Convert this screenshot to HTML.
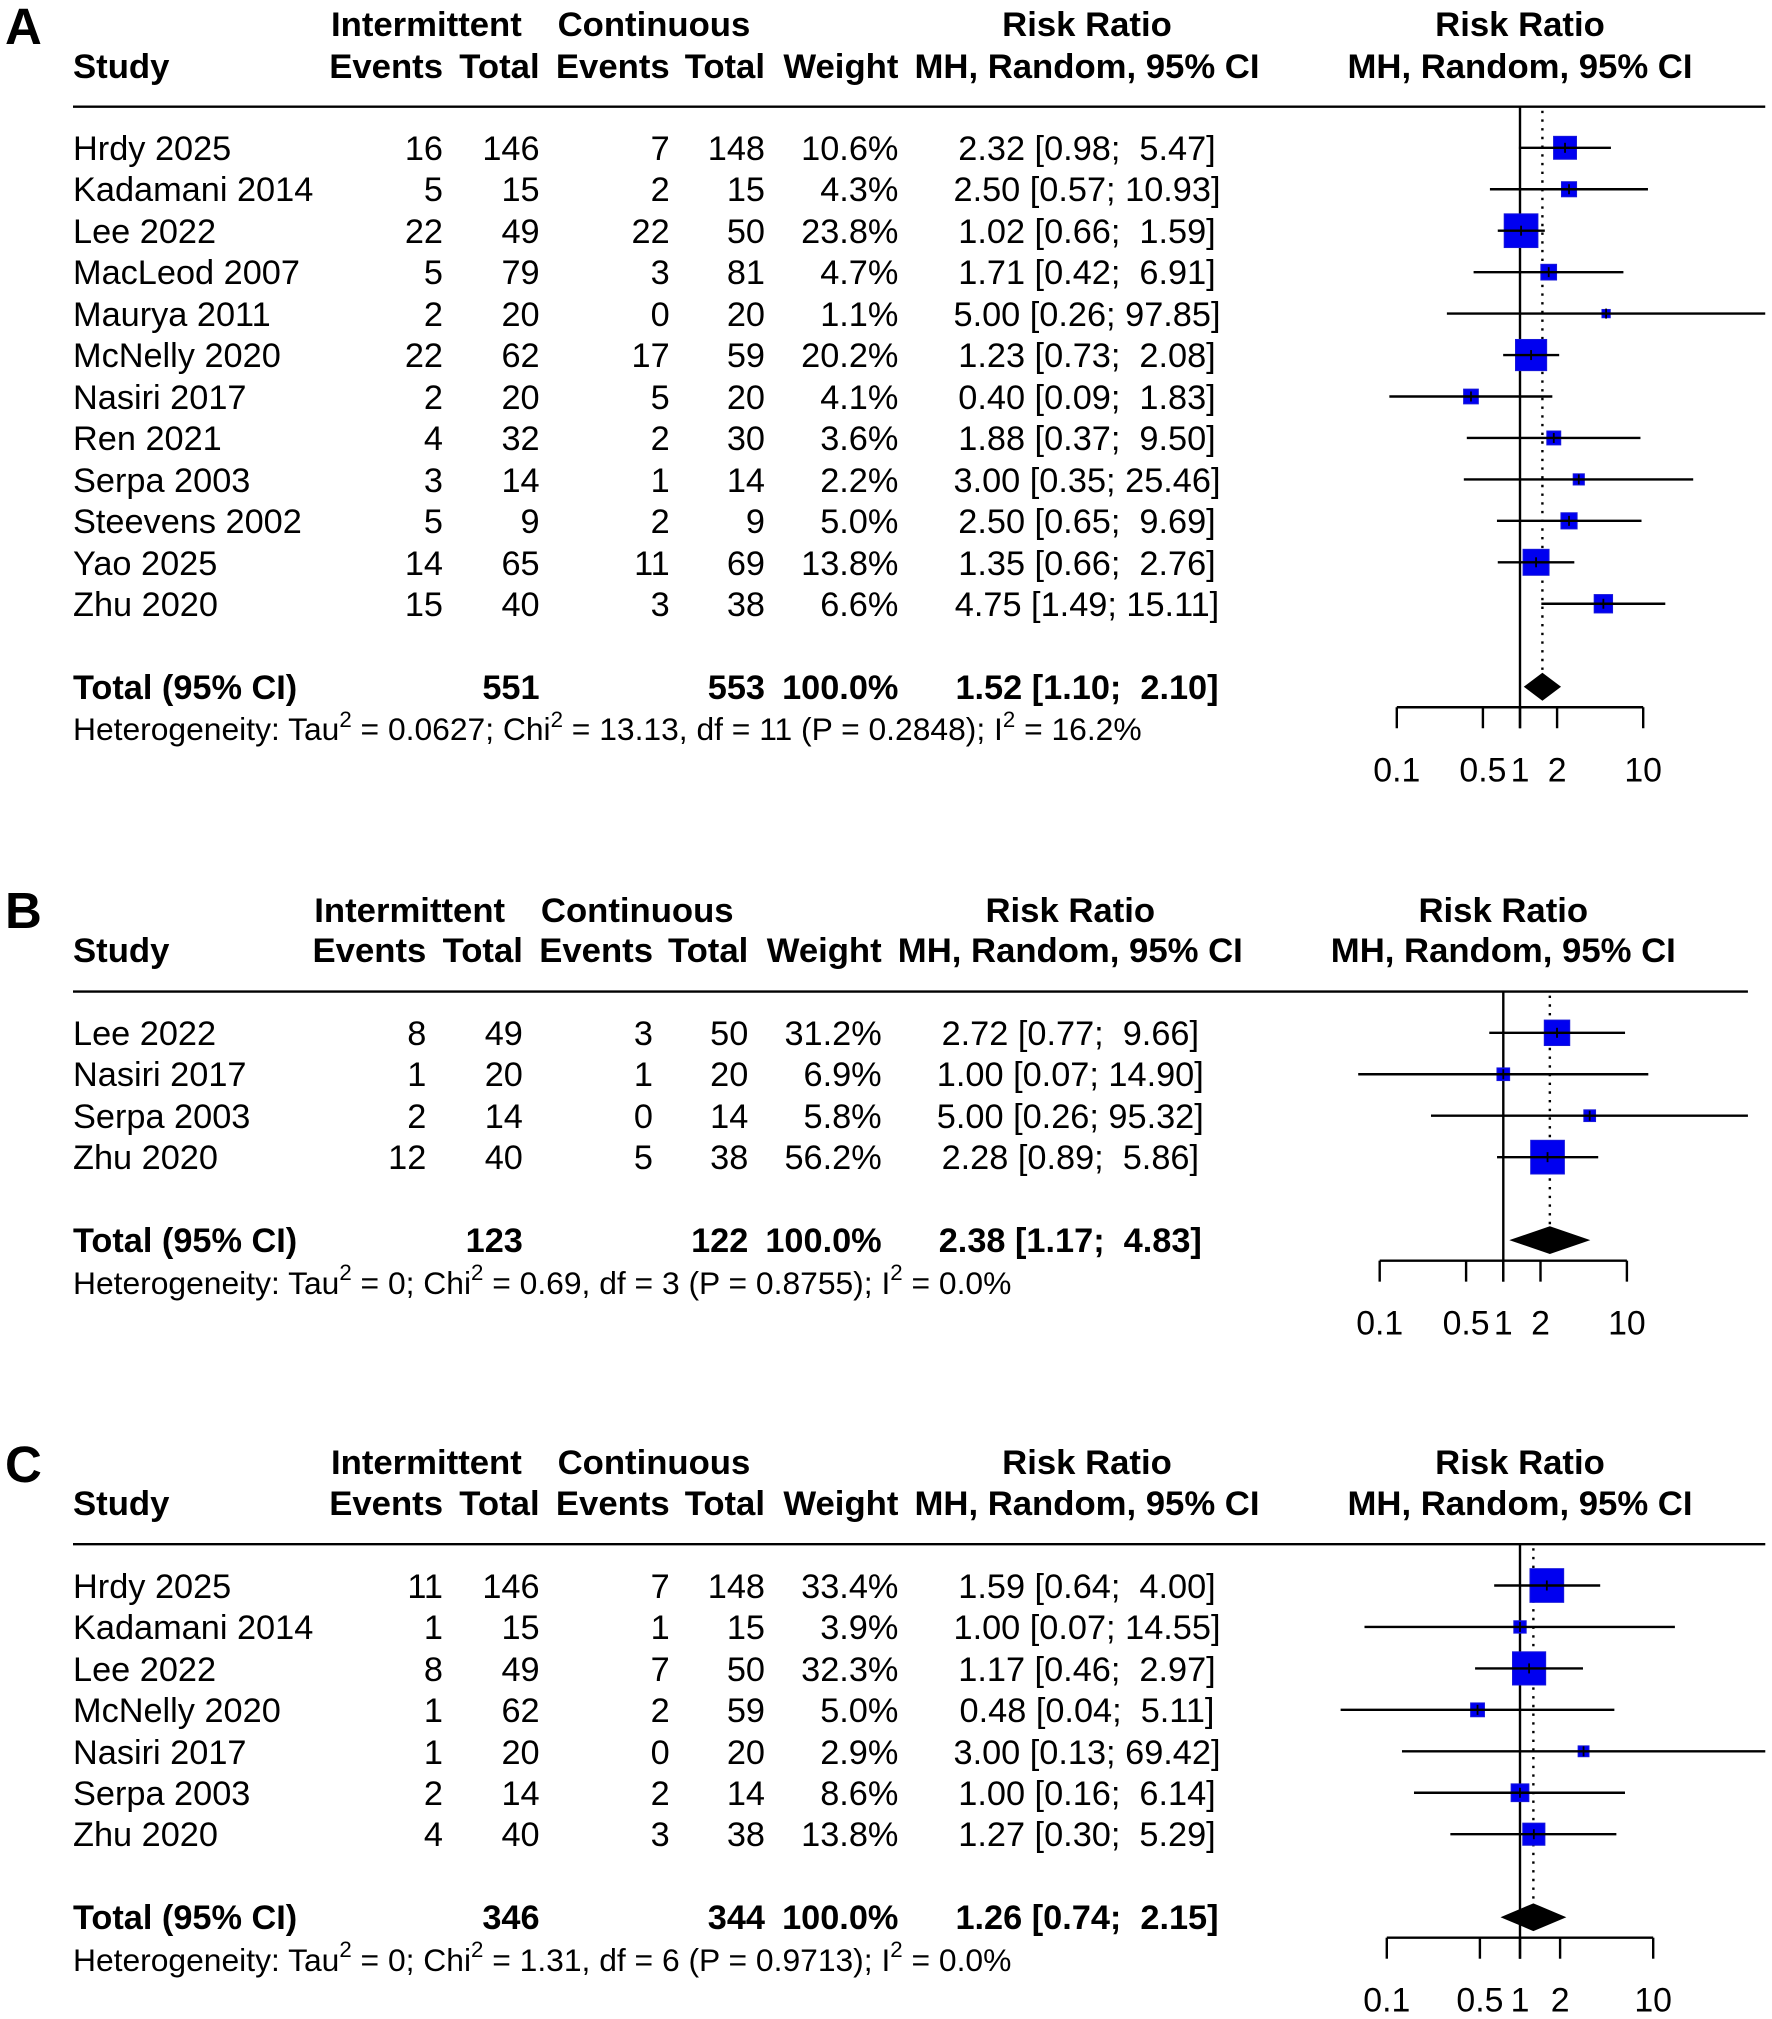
<!DOCTYPE html>
<html lang="en">
<head>
<meta charset="utf-8">
<title>Forest plots of risk ratios</title>
<style>
html,body{margin:0;padding:0;background:#fff;}
#page{position:relative;width:1772px;height:2019px;overflow:hidden;background:#fff;color:#000;font-family:"Liberation Sans",Arial,sans-serif;font-size:34.3px;}
#marks{position:absolute;left:0;top:0;}
.panel-label{position:absolute;left:5px;font-size:51px;font-weight:bold;line-height:51px;}
.panel{position:absolute;left:0;top:0;width:1772px;height:2019px;--dx:0px;--plot:1520px;}
.row{position:absolute;left:0;width:1772px;height:42px;line-height:42px;top:calc(var(--r1) + var(--i)*41.45px - 19.8px);}
.hd{font-weight:bold;font-size:34.7px;}
.tot{font-weight:bold;font-size:34.3px;}
.row span{position:absolute;top:0;white-space:pre;}
.st{left:73px;}
.ev1,.to1,.ev2,.to2,.wt{width:200px;text-align:right;}
.ev1{left:calc(243px + var(--dx));}
.to1{left:calc(339.6px + var(--dx));}
.ev2{left:calc(469.7px + var(--dx));}
.to2{left:calc(565px + var(--dx));}
.wt{left:calc(698.4px + var(--dx));}
.rr{width:600px;text-align:center;left:calc(787px + var(--dx));}
.pl{width:600px;text-align:center;left:calc(var(--plot) - 300px);}
.gi{left:calc(331px + var(--dx));}
.gc{left:calc(557.6px + var(--dx));}
.het{font-size:31.8px;}
.het sup{font-size:.7em;line-height:0;position:relative;top:-.1em;vertical-align:super;}
</style>
</head>
<body>
<div id="page">
<svg id="marks" width="1772" height="2019" viewBox="0 0 1772 2019"></svg>

<div class="panel-label" style="top:1px">A</div>
<div class="panel-label" style="top:884.5px">B</div>
<div class="panel-label" style="top:1438.5px">C</div>

<!-- PANEL A -->
<div class="panel" style="--r1:147.8px">
<div class="row hd" style="top:4px"><span class="gi">Intermittent</span><span class="gc">Continuous</span><span class="rr">Risk Ratio</span><span class="pl">Risk Ratio</span></div>
<div class="row hd" style="top:45.9px"><span class="st">Study</span><span class="ev1">Events</span><span class="to1">Total</span><span class="ev2">Events</span><span class="to2">Total</span><span class="wt">Weight</span><span class="rr">MH, Random, 95% CI</span><span class="pl">MH, Random, 95% CI</span></div>
<div class="row" style="--i:0"><span class="st">Hrdy 2025</span><span class="ev1">16</span><span class="to1">146</span><span class="ev2">7</span><span class="to2">148</span><span class="wt">10.6%</span><span class="rr">2.32 [0.98;  5.47]</span></div>
<div class="row" style="--i:1"><span class="st">Kadamani 2014</span><span class="ev1">5</span><span class="to1">15</span><span class="ev2">2</span><span class="to2">15</span><span class="wt">4.3%</span><span class="rr">2.50 [0.57; 10.93]</span></div>
<div class="row" style="--i:2"><span class="st">Lee 2022</span><span class="ev1">22</span><span class="to1">49</span><span class="ev2">22</span><span class="to2">50</span><span class="wt">23.8%</span><span class="rr">1.02 [0.66;  1.59]</span></div>
<div class="row" style="--i:3"><span class="st">MacLeod 2007</span><span class="ev1">5</span><span class="to1">79</span><span class="ev2">3</span><span class="to2">81</span><span class="wt">4.7%</span><span class="rr">1.71 [0.42;  6.91]</span></div>
<div class="row" style="--i:4"><span class="st">Maurya 2011</span><span class="ev1">2</span><span class="to1">20</span><span class="ev2">0</span><span class="to2">20</span><span class="wt">1.1%</span><span class="rr">5.00 [0.26; 97.85]</span></div>
<div class="row" style="--i:5"><span class="st">McNelly 2020</span><span class="ev1">22</span><span class="to1">62</span><span class="ev2">17</span><span class="to2">59</span><span class="wt">20.2%</span><span class="rr">1.23 [0.73;  2.08]</span></div>
<div class="row" style="--i:6"><span class="st">Nasiri 2017</span><span class="ev1">2</span><span class="to1">20</span><span class="ev2">5</span><span class="to2">20</span><span class="wt">4.1%</span><span class="rr">0.40 [0.09;  1.83]</span></div>
<div class="row" style="--i:7"><span class="st">Ren 2021</span><span class="ev1">4</span><span class="to1">32</span><span class="ev2">2</span><span class="to2">30</span><span class="wt">3.6%</span><span class="rr">1.88 [0.37;  9.50]</span></div>
<div class="row" style="--i:8"><span class="st">Serpa 2003</span><span class="ev1">3</span><span class="to1">14</span><span class="ev2">1</span><span class="to2">14</span><span class="wt">2.2%</span><span class="rr">3.00 [0.35; 25.46]</span></div>
<div class="row" style="--i:9"><span class="st">Steevens 2002</span><span class="ev1">5</span><span class="to1">9</span><span class="ev2">2</span><span class="to2">9</span><span class="wt">5.0%</span><span class="rr">2.50 [0.65;  9.69]</span></div>
<div class="row" style="--i:10"><span class="st">Yao 2025</span><span class="ev1">14</span><span class="to1">65</span><span class="ev2">11</span><span class="to2">69</span><span class="wt">13.8%</span><span class="rr">1.35 [0.66;  2.76]</span></div>
<div class="row" style="--i:11"><span class="st">Zhu 2020</span><span class="ev1">15</span><span class="to1">40</span><span class="ev2">3</span><span class="to2">38</span><span class="wt">6.6%</span><span class="rr">4.75 [1.49; 15.11]</span></div>
<div class="row tot" style="top:667px"><span class="st">Total (95% CI)</span><span class="to1">551</span><span class="to2">553</span><span class="wt">100.0%</span><span class="rr">1.52 [1.10;  2.10]</span></div>
<div class="row het" style="top:708.4px"><span class="st">Heterogeneity: Tau<sup>2</sup> = 0.0627; Chi<sup>2</sup> = 13.13, df = 11 (P = 0.2848); I<sup>2</sup> = 16.2%</span></div>
</div>

<!-- PANEL B -->
<div class="panel" style="--r1:1032.8px;--dx:-16.7px;--plot:1503.3px">
<div class="row hd" style="top:889.6px"><span class="gi">Intermittent</span><span class="gc">Continuous</span><span class="rr">Risk Ratio</span><span class="pl">Risk Ratio</span></div>
<div class="row hd" style="top:930.4px"><span class="st">Study</span><span class="ev1">Events</span><span class="to1">Total</span><span class="ev2">Events</span><span class="to2">Total</span><span class="wt">Weight</span><span class="rr">MH, Random, 95% CI</span><span class="pl">MH, Random, 95% CI</span></div>
<div class="row" style="--i:0"><span class="st">Lee 2022</span><span class="ev1">8</span><span class="to1">49</span><span class="ev2">3</span><span class="to2">50</span><span class="wt">31.2%</span><span class="rr">2.72 [0.77;  9.66]</span></div>
<div class="row" style="--i:1"><span class="st">Nasiri 2017</span><span class="ev1">1</span><span class="to1">20</span><span class="ev2">1</span><span class="to2">20</span><span class="wt">6.9%</span><span class="rr">1.00 [0.07; 14.90]</span></div>
<div class="row" style="--i:2"><span class="st">Serpa 2003</span><span class="ev1">2</span><span class="to1">14</span><span class="ev2">0</span><span class="to2">14</span><span class="wt">5.8%</span><span class="rr">5.00 [0.26; 95.32]</span></div>
<div class="row" style="--i:3"><span class="st">Zhu 2020</span><span class="ev1">12</span><span class="to1">40</span><span class="ev2">5</span><span class="to2">38</span><span class="wt">56.2%</span><span class="rr">2.28 [0.89;  5.86]</span></div>
<div class="row tot" style="top:1220.4px"><span class="st">Total (95% CI)</span><span class="to1">123</span><span class="to2">122</span><span class="wt">100.0%</span><span class="rr">2.38 [1.17;  4.83]</span></div>
<div class="row het" style="top:1261.7px"><span class="st">Heterogeneity: Tau<sup>2</sup> = 0; Chi<sup>2</sup> = 0.69, df = 3 (P = 0.8755); I<sup>2</sup> = 0.0%</span></div>
</div>

<!-- PANEL C -->
<div class="panel" style="--r1:1585.5px">
<div class="row hd" style="top:1442px"><span class="gi">Intermittent</span><span class="gc">Continuous</span><span class="rr">Risk Ratio</span><span class="pl">Risk Ratio</span></div>
<div class="row hd" style="top:1483.4px"><span class="st">Study</span><span class="ev1">Events</span><span class="to1">Total</span><span class="ev2">Events</span><span class="to2">Total</span><span class="wt">Weight</span><span class="rr">MH, Random, 95% CI</span><span class="pl">MH, Random, 95% CI</span></div>
<div class="row" style="--i:0"><span class="st">Hrdy 2025</span><span class="ev1">11</span><span class="to1">146</span><span class="ev2">7</span><span class="to2">148</span><span class="wt">33.4%</span><span class="rr">1.59 [0.64;  4.00]</span></div>
<div class="row" style="--i:1"><span class="st">Kadamani 2014</span><span class="ev1">1</span><span class="to1">15</span><span class="ev2">1</span><span class="to2">15</span><span class="wt">3.9%</span><span class="rr">1.00 [0.07; 14.55]</span></div>
<div class="row" style="--i:2"><span class="st">Lee 2022</span><span class="ev1">8</span><span class="to1">49</span><span class="ev2">7</span><span class="to2">50</span><span class="wt">32.3%</span><span class="rr">1.17 [0.46;  2.97]</span></div>
<div class="row" style="--i:3"><span class="st">McNelly 2020</span><span class="ev1">1</span><span class="to1">62</span><span class="ev2">2</span><span class="to2">59</span><span class="wt">5.0%</span><span class="rr">0.48 [0.04;  5.11]</span></div>
<div class="row" style="--i:4"><span class="st">Nasiri 2017</span><span class="ev1">1</span><span class="to1">20</span><span class="ev2">0</span><span class="to2">20</span><span class="wt">2.9%</span><span class="rr">3.00 [0.13; 69.42]</span></div>
<div class="row" style="--i:5"><span class="st">Serpa 2003</span><span class="ev1">2</span><span class="to1">14</span><span class="ev2">2</span><span class="to2">14</span><span class="wt">8.6%</span><span class="rr">1.00 [0.16;  6.14]</span></div>
<div class="row" style="--i:6"><span class="st">Zhu 2020</span><span class="ev1">4</span><span class="to1">40</span><span class="ev2">3</span><span class="to2">38</span><span class="wt">13.8%</span><span class="rr">1.27 [0.30;  5.29]</span></div>
<div class="row tot" style="top:1897.4px"><span class="st">Total (95% CI)</span><span class="to1">346</span><span class="to2">344</span><span class="wt">100.0%</span><span class="rr">1.26 [0.74;  2.15]</span></div>
<div class="row het" style="top:1938.8px"><span class="st">Heterogeneity: Tau<sup>2</sup> = 0; Chi<sup>2</sup> = 1.31, df = 6 (P = 0.9713); I<sup>2</sup> = 0.0%</span></div>
</div>
</div>

<script>
// Chart values
const axisTickValues = [0.1, 0.5, 1, 2, 10];
const axisTickLabels = ["0.1", "0.5", "1", "2", "10"];

const panelARatios = [2.32, 2.50, 1.02, 1.71, 5.00, 1.23, 0.40, 1.88, 3.00, 2.50, 1.35, 4.75];
const panelALower = [0.98, 0.57, 0.66, 0.42, 0.255, 0.73, 0.087, 0.37, 0.35, 0.65, 0.66, 1.49];
const panelAUpper = [5.47, 10.93, 1.59, 6.91, 97.85, 2.08, 1.83, 9.50, 25.46, 9.69, 2.76, 15.11];
const panelAWeights = [10.6, 4.3, 23.8, 4.7, 1.1, 20.2, 4.1, 3.6, 2.2, 5.0, 13.8, 6.6];
const panelAPooled = [1.52, 1.10, 2.10];

const panelBRatios = [2.72, 1.00, 5.00, 2.28];
const panelBLower = [0.77, 0.067, 0.26, 0.89];
const panelBUpper = [9.66, 14.90, 95.32, 5.86];
const panelBWeights = [31.2, 6.9, 5.8, 56.2];
const panelBPooled = [2.38, 1.17, 4.83];

const panelCRatios = [1.59, 1.00, 1.17, 0.48, 3.00, 1.00, 1.27];
const panelCLower = [0.64, 0.068, 0.46, 0.045, 0.13, 0.16, 0.30];
const panelCUpper = [4.00, 14.55, 2.97, 5.11, 69.42, 6.14, 5.29];
const panelCWeights = [33.4, 3.9, 32.3, 5.0, 2.9, 8.6, 13.8];
const panelCPooled = [1.26, 0.74, 2.15];

const svg = document.getElementById('marks');
const NS = 'http://www.w3.org/2000/svg';
const ROW_STEP = 41.45;
const MAX_SQUARE = 32.4;
const MIN_SQUARE_PAD = 1.4;
const TABLE_LEFT = 73;

function make(tag, attrs) {
  const el = document.createElementNS(NS, tag);
  Object.keys(attrs).forEach(function (k) { el.setAttribute(k, attrs[k]); });
  svg.appendChild(el);
  return el;
}

function drawPanel(layout, ratios, lower, upper, weights, pooled) {
  const x = function (v) { return layout.xOne + layout.decade * Math.log10(v); };
  const y = function (i) { return layout.firstRow + i * ROW_STEP; };
  const xEnd = x(Math.max.apply(null, upper));
  const yPooled = y(ratios.length - 1) + 83;
  const yAxis = yPooled + 20.5;
  const yTick = yAxis + 21;
  const maxWeight = Math.max.apply(null, weights);

  const rule = make('line', { x1: TABLE_LEFT, x2: xEnd, y1: layout.headerY, y2: layout.headerY, stroke: '#000', 'stroke-width': 2.4 });
  
  

  const ref = make('line', { x1: x(1), x2: x(1), y1: layout.headerY, y2: yTick, stroke: '#000', 'stroke-width': 2.4 });
  
  

  const dotted = make('line', { x1: x(pooled[0]), x2: x(pooled[0]), y1: layout.headerY + 4, y2: yPooled - 13, stroke: '#000', 'stroke-width': 2.4, 'stroke-dasharray': '2.4 6.3' });
  
  

  ratios.forEach(function (r, i) {
    const size = MIN_SQUARE_PAD + MAX_SQUARE * Math.sqrt(weights[i] / maxWeight);
    const square = make('rect', { x: x(r) - size / 2, y: y(i) - size / 2, width: size, height: size, fill: '#0000f0', stroke: '#1a1ad8', 'stroke-width': 0.9 });
    
    

    const ci = make('line', { x1: x(lower[i]), x2: Math.min(x(upper[i]), xEnd), y1: y(i), y2: y(i), stroke: '#000', 'stroke-width': 2.4 });
    
    

    const tick = make('line', { x1: x(r), x2: x(r), y1: y(i) - 5, y2: y(i) + 5, stroke: '#000', 'stroke-width': 1.8 });
    
    
  });

  const points = [
    [x(pooled[1]), yPooled],
    [x(pooled[0]), yPooled - 13],
    [x(pooled[2]), yPooled],
    [x(pooled[0]), yPooled + 13]
  ].map(function (p) { return p.join(','); }).join(' ');
  const diamond = make('polygon', { points: points, fill: '#000', stroke: '#000', 'stroke-width': 1.6, 'stroke-linejoin': 'miter' });
  
  

  const axisLine = make('line', { x1: x(axisTickValues[0]), x2: x(axisTickValues[axisTickValues.length - 1]), y1: yAxis, y2: yAxis, stroke: '#000', 'stroke-width': 2.4 });
  
  

  axisTickValues.forEach(function (v, i) {
    const tick = make('line', { x1: x(v), x2: x(v), y1: yAxis, y2: yTick, stroke: '#000', 'stroke-width': 2.4 });
    
    

    const label = make('text', { x: x(v), y: yTick + 53, 'text-anchor': 'middle', 'font-family': '"Liberation Sans", Arial, sans-serif', 'font-size': 33.8, fill: '#000' });
    label.textContent = axisTickLabels[i];
    
    
  });
}

drawPanel({ xOne: 1520, decade: 123.2, headerY: 106.7, firstRow: 147.8 }, panelARatios, panelALower, panelAUpper, panelAWeights, panelAPooled);
drawPanel({ xOne: 1503.3, decade: 123.6, headerY: 991.6, firstRow: 1032.8 }, panelBRatios, panelBLower, panelBUpper, panelBWeights, panelBPooled);
drawPanel({ xOne: 1520, decade: 133.2, headerY: 1544.2, firstRow: 1585.5 }, panelCRatios, panelCLower, panelCUpper, panelCWeights, panelCPooled);
</script>
</body>
</html>
